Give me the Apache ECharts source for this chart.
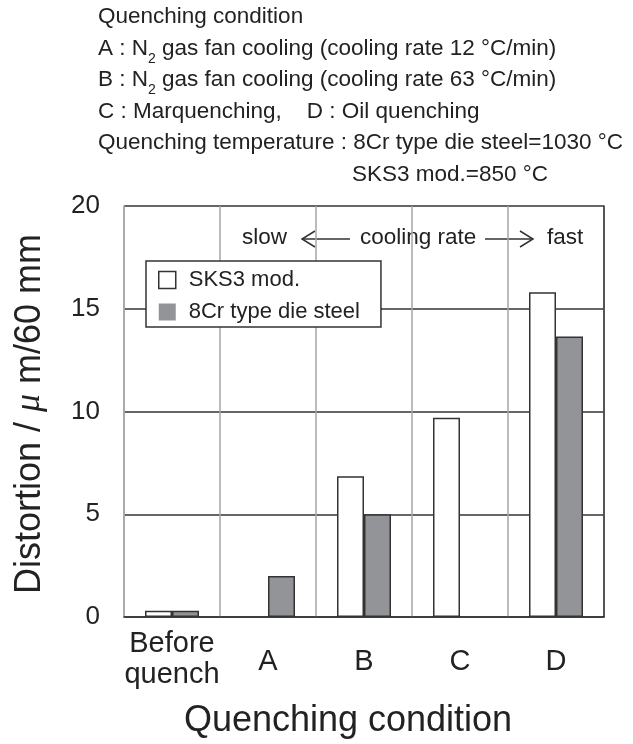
<!DOCTYPE html>
<html><head><meta charset="utf-8">
<script src="https://cdn.jsdelivr.net/npm/echarts@6/dist/echarts.min.js"></script>
<style>html,body{margin:0;padding:0;background:#fff}#c{width:633px;height:744px}</style>
</head><body><div id="c"></div>
<script>
// ---- data ----
const categories = ['Before\nquench', 'A', 'B', 'C', 'D'];
const seriesNames = ['SKS3 mod.', '8Cr type die steel'];
const sks3Values = [0.3, null, 6.85, 9.7, 15.8];
const cr8Values = [0.3, 2.0, 5.0, null, 13.65];
const yMin = 0, yMax = 20, yStep = 5;
const headerLines = [
  'Quenching condition',
  'A : N{sub|2} gas fan cooling (cooling rate 12 °C/min)',
  'B : N{sub|2} gas fan cooling (cooling rate 63 °C/min)',
  'C : Marquenching,    D : Oil quenching',
  'Quenching temperature : 8Cr type die steel=1030 °C',
  'SKS3 mod.=850 °C'
];
const yAxisTitle = 'Distortion / {mu|μ} m/60 mm';
const xAxisTitle = 'Quenching condition';
const rateNote = ['slow', 'cooling rate', 'fast'];

// ---- styling ----
const FONT = '"Liberation Sans", Arial, Helvetica, sans-serif';
const INK = '#222';
const DARK = '#333';
const GRAYLINE = '#a6a6a8';
const FILL8 = '#939497';

const headerX = [98, 98, 98, 98, 98, 352];
const headerY = [17, 49, 80, 112, 143, 175];

const graphics = [];
headerLines.forEach((t, i) => {
  graphics.push({
    type: 'text', x: headerX[i], y: headerY[i],
    style: {
      text: t, fill: INK, fontSize: 22.5, fontFamily: FONT,
      textAlign: 'left', textVerticalAlign: 'middle', lineHeight: 34,
      rich: {
        sub: { fontSize: 14, fontFamily: FONT, fill: INK, lineHeight: 14, verticalAlign: 'bottom' }
      }
    }
  });
});
// axis titles
graphics.push({
  type: 'text', x: 30, y: 414, rotation: Math.PI / 2,
  style: {
    text: yAxisTitle, fill: INK, fontSize: 36, fontFamily: FONT,
    textAlign: 'center', textVerticalAlign: 'middle',
    rich: { mu: { fontSize: 36, fontFamily: '"Liberation Serif", serif', fontStyle: 'italic', fill: INK } }
  }
});
graphics.push({
  type: 'text', x: 348, y: 721,
  style: { text: xAxisTitle, fill: INK, fontSize: 36, fontFamily: FONT, textAlign: 'center', textVerticalAlign: 'middle' }
});
// cooling-rate annotation
const noteX = [242, 360, 547];
rateNote.forEach((t, i) => {
  graphics.push({
    type: 'text', x: noteX[i], y: 238,
    style: { text: t, fill: INK, fontSize: 22.5, fontFamily: FONT, textAlign: 'left', textVerticalAlign: 'middle' }
  });
});
const arrowStyle = { stroke: DARK, lineWidth: 1.5, fill: null };
graphics.push({ type: 'polyline', shape: { points: [[350, 239], [302, 239]] }, style: arrowStyle });
graphics.push({ type: 'polyline', shape: { points: [[315, 231], [302, 239], [315, 247]] }, style: arrowStyle });
graphics.push({ type: 'polyline', shape: { points: [[485, 239], [533, 239]] }, style: arrowStyle });
graphics.push({ type: 'polyline', shape: { points: [[520, 231], [533, 239], [520, 247]] }, style: arrowStyle });

const chart = echarts.init(document.getElementById('c'), null, { renderer: 'canvas' });
chart.setOption({
  backgroundColor: '#fff',
  animation: false,
  textStyle: { fontFamily: FONT },
  grid: { left: 124, right: 29, top: 206, bottom: 127, containLabel: false, outerBoundsMode: 'none' },
  legend: {
    orient: 'vertical', left: 146, top: 261,
    padding: [8, 21, 4, 12],
    itemWidth: 17, itemHeight: 17, itemGap: 10,
    backgroundColor: '#fff', borderColor: DARK, borderWidth: 1.5,
    textStyle: { fontSize: 22, color: INK, fontFamily: FONT, lineHeight: 22, padding: [0, 0, 0, 8] },
    data: [
      { name: seriesNames[0], icon: 'rect', itemStyle: { color: '#fff', borderColor: DARK, borderWidth: 1.5 } },
      { name: seriesNames[1], icon: 'rect', itemStyle: { color: FILL8, borderColor: FILL8, borderWidth: 0 } }
    ]
  },
  xAxis: {
    type: 'category', data: categories,
    axisLine: { show: true, lineStyle: { color: DARK, width: 1.5 } },
    axisTick: { show: false },
    splitLine: { show: true, lineStyle: { color: GRAYLINE, width: 1.5 } },
    axisLabel: {
      interval: 0, margin: 11, color: INK,
      formatter: v => v.indexOf('\n') >= 0
        ? v.split('\n').map(s => '{m|' + s + '}').join('\n')
        : '{s|' + v + '}',
      rich: {
        m: { fontSize: 29, lineHeight: 31, fontFamily: FONT, color: INK },
        s: { fontSize: 29, lineHeight: 68, fontFamily: FONT, color: INK }
      }
    }
  },
  yAxis: [{
    type: 'value', min: yMin, max: yMax, interval: yStep,
    axisLine: { show: true, lineStyle: { color: GRAYLINE, width: 1.5 } },
    axisTick: { show: false },
    splitLine: { show: true, lineStyle: { color: DARK, width: 1.5 } },
    axisLabel: { fontSize: 26, color: INK, margin: 24, fontFamily: FONT }
  }, {
    type: 'value', min: yMin, max: yMax, interval: yStep, position: 'right',
    axisLine: { show: true, lineStyle: { color: DARK, width: 1.5 } },
    axisTick: { show: false }, axisLabel: { show: false }, splitLine: { show: false }
  }],
  series: [{
    name: seriesNames[0], type: 'bar', data: sks3Values,
    barWidth: 27, barGap: '0%',
    itemStyle: { color: '#fff', borderColor: DARK, borderWidth: 1.5 }
  }, {
    name: seriesNames[1], type: 'bar', data: cr8Values,
    barWidth: 27, barGap: '0%',
    itemStyle: { color: FILL8, borderColor: DARK, borderWidth: 1.5 }
  }],
  graphic: graphics
});
</script>
</body></html>
